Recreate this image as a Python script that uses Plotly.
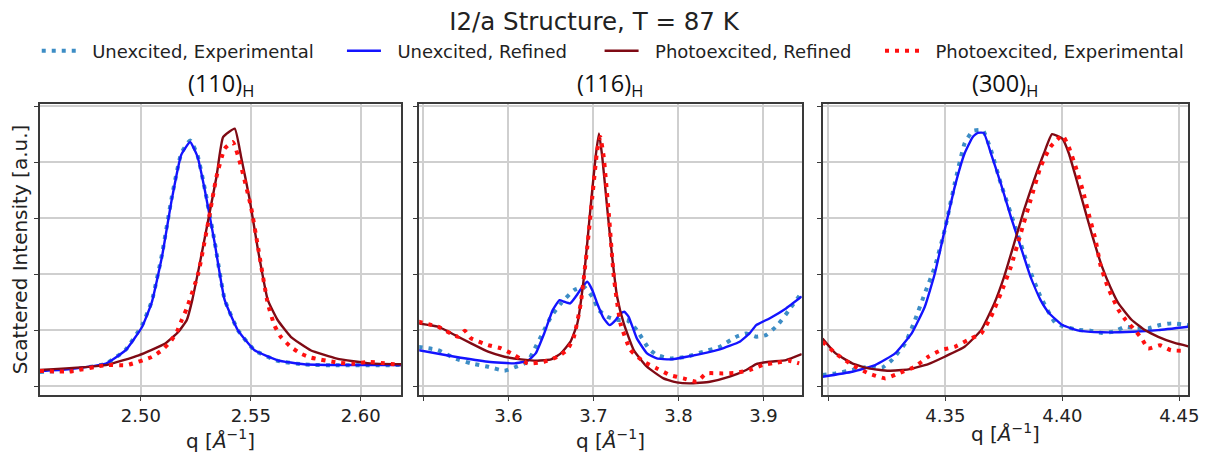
import plotly.graph_objects as go

# ---------------- data ----------------
# Panel (110)_H
ue1_x = [2.454, 2.467, 2.4841, 2.4931, 2.5006, 2.505, 2.5096, 2.514, 2.5183, 2.5224, 2.5258, 2.5291, 2.5336, 2.5381, 2.5441, 2.5517, 2.5622, 2.5742, 2.590, 2.6185]
ue1_y = [0.25, 0.28, 0.40, 0.65, 1.09, 1.52, 2.35, 3.36, 4.15, 4.39, 4.12, 3.52, 2.57, 1.55, 1.0, 0.64, 0.45, 0.385, 0.37, 0.375]
ur1_x = [2.454, 2.467, 2.4841, 2.4931, 2.5006, 2.505, 2.5096, 2.514, 2.5183, 2.5224, 2.5258, 2.5291, 2.5336, 2.5381, 2.5441, 2.5517, 2.5622, 2.5742, 2.590, 2.6185]
ur1_y = [0.27, 0.30, 0.40, 0.64, 1.06, 1.50, 2.31, 3.32, 4.125, 4.36, 4.095, 3.5, 2.55, 1.54, 1.0, 0.64, 0.46, 0.39, 0.375, 0.375]
pr1_x = [2.454, 2.4841, 2.499, 2.5111, 2.5171, 2.5209, 2.5234, 2.5271, 2.5306, 2.5344, 2.5374, 2.5427, 2.5456, 2.5494, 2.5532, 2.5577, 2.5622, 2.5682, 2.5772, 2.5892, 2.6042, 2.6185]
pr1_y = [0.286, 0.375, 0.55, 0.76, 0.97, 1.18, 1.54, 2.25, 2.96, 3.74, 4.45, 4.60, 4.095, 3.35, 2.45, 1.54, 1.18, 0.88, 0.64, 0.49, 0.405, 0.39]
pe1_x = [2.454, 2.4676, 2.4841, 2.4938, 2.505, 2.5096, 2.5134, 2.5164, 2.5186, 2.5209, 2.5261, 2.5306, 2.5344, 2.5381, 2.5419, 2.5456, 2.5501, 2.5532, 2.5577, 2.5607, 2.5636, 2.5682, 2.5727, 2.5772, 2.5892, 2.5962, 2.6042, 2.6185]
pe1_y = [0.27, 0.26, 0.375, 0.375, 0.52, 0.64, 0.79, 0.97, 1.18, 1.39, 2.01, 2.92, 3.74, 4.24, 4.36, 3.92, 3.2, 2.5, 1.48, 1.09, 0.88, 0.70, 0.58, 0.51, 0.42, 0.40, 0.43, 0.375]

# Panel (116)_H
ue2_x = [3.494, 3.517, 3.537, 3.556, 3.576, 3.5953, 3.611, 3.6226, 3.630, 3.640, 3.650, 3.6616, 3.677, 3.6888, 3.6986, 3.7064, 3.716, 3.7278, 3.7395, 3.751, 3.7648, 3.7745, 3.790, 3.8096, 3.829, 3.8485, 3.868, 3.8797, 3.8914, 3.903, 3.9167, 3.930, 3.945]
ue2_y = [0.70, 0.643, 0.494, 0.405, 0.345, 0.274, 0.357, 0.435, 0.643, 0.94, 1.238, 1.476, 1.714, 1.774, 1.595, 1.357, 1.238, 1.179, 1.179, 1.0, 0.673, 0.554, 0.494, 0.524, 0.613, 0.702, 0.881, 0.94, 0.881, 0.911, 1.089, 1.357, 1.67]
ur2_x = [3.494, 3.537, 3.576, 3.607, 3.6226, 3.632, 3.642, 3.652, 3.660, 3.6655, 3.6725, 3.679, 3.687, 3.6927, 3.6986, 3.7044, 3.712, 3.719, 3.726, 3.7317, 3.7363, 3.7414, 3.751, 3.763, 3.7745, 3.790, 3.8096, 3.8485, 3.872, 3.8836, 3.8914, 3.907, 3.9265, 3.945]
ur2_y = [0.643, 0.524, 0.435, 0.405, 0.452, 0.583, 0.94, 1.357, 1.536, 1.506, 1.476, 1.595, 1.774, 1.863, 1.714, 1.476, 1.208, 1.089, 1.179, 1.298, 1.327, 1.238, 0.851, 0.583, 0.494, 0.476, 0.524, 0.655, 0.792, 0.94, 1.089, 1.208, 1.387, 1.60]
pr2_x = [3.494, 3.517, 3.537, 3.556, 3.576, 3.5953, 3.6148, 3.634, 3.650, 3.6616, 3.673, 3.681, 3.6888, 3.6966, 3.7025, 3.7064, 3.7103, 3.716, 3.722, 3.7278, 3.7356, 3.7473, 3.7628, 3.7823, 3.7979, 3.8135, 3.8369, 3.8602, 3.8797, 3.8914, 3.907, 3.9265, 3.945]
pr2_y = [1.119, 1.06, 0.911, 0.762, 0.613, 0.524, 0.476, 0.452, 0.476, 0.583, 0.792, 1.119, 1.952, 3.202, 4.095, 4.512, 4.095, 3.202, 2.31, 1.595, 1.119, 0.643, 0.345, 0.137, 0.065, 0.048, 0.077, 0.167, 0.286, 0.393, 0.435, 0.464, 0.57]
pe2_x = [3.494, 3.517, 3.541, 3.5486, 3.556, 3.576, 3.5914, 3.607, 3.6226, 3.642, 3.6577, 3.669, 3.677, 3.685, 3.6927, 3.6986, 3.7044, 3.708, 3.712, 3.718, 3.7239, 3.7317, 3.7434, 3.759, 3.7745, 3.790, 3.8057, 3.8213, 3.833, 3.8524, 3.868, 3.8836, 3.899, 3.9148, 3.930, 3.942]
pe2_y = [1.149, 1.06, 0.881, 0.988, 0.851, 0.732, 0.673, 0.554, 0.405, 0.435, 0.524, 0.643, 0.881, 1.476, 2.488, 3.381, 4.214, 4.452, 4.095, 3.083, 1.952, 1.119, 0.643, 0.435, 0.315, 0.196, 0.137, 0.077, 0.226, 0.226, 0.238, 0.286, 0.375, 0.417, 0.452, 0.405]

# Panel (300)_H
ue3_x = [4.2975, 4.3031, 4.3102, 4.3172, 4.3229, 4.3271, 4.3328, 4.337, 4.3412, 4.3455, 4.3497, 4.354, 4.3582, 4.3617, 4.366, 4.3695, 4.3737, 4.3794, 4.385, 4.3907, 4.3972, 4.4071, 4.412, 4.4169, 4.4218, 4.4269, 4.4318, 4.4367, 4.4417, 4.4466, 4.4538]
ue3_y = [0.196, 0.226, 0.286, 0.345, 0.327, 0.464, 0.762, 1.179, 1.655, 2.131, 2.786, 3.619, 4.333, 4.56, 4.571, 4.214, 3.619, 2.905, 2.19, 1.595, 1.12, 1.0, 0.99, 0.95, 0.97, 1.06, 1.03, 1.03, 1.09, 1.12, 1.09]
ur3_x = [4.2975, 4.3102, 4.320, 4.3285, 4.3356, 4.3412, 4.3455, 4.3497, 4.354, 4.3582, 4.3617, 4.3638, 4.3664, 4.3695, 4.3737, 4.378, 4.3822, 4.3864, 4.3907, 4.3944, 4.400, 4.4071, 4.4169, 4.4302, 4.441, 4.4538]
ur3_y = [0.167, 0.256, 0.375, 0.583, 0.94, 1.417, 2.012, 2.786, 3.56, 4.155, 4.452, 4.524, 4.524, 4.155, 3.619, 3.024, 2.488, 1.952, 1.536, 1.30, 1.09, 0.99, 0.96, 0.97, 1.0, 1.06]
pr3_x = [4.2975, 4.3031, 4.3102, 4.3172, 4.3257, 4.3342, 4.3427, 4.3497, 4.3582, 4.3653, 4.3709, 4.3751, 4.3794, 4.3836, 4.3879, 4.3921, 4.3956, 4.4000, 4.4028, 4.4057, 4.4085, 4.4113, 4.4142, 4.417, 4.4205, 4.424, 4.4297, 4.4353, 4.441, 4.448, 4.4538]
pr3_y = [0.851, 0.583, 0.405, 0.315, 0.274, 0.298, 0.393, 0.524, 0.702, 1.0, 1.476, 1.952, 2.548, 3.143, 3.679, 4.155, 4.5, 4.42, 4.155, 3.74, 3.32, 2.905, 2.49, 2.13, 1.77, 1.476, 1.18, 1.0, 0.88, 0.77, 0.71]
pe3_x = [4.2975, 4.3031, 4.3102, 4.3172, 4.3243, 4.33, 4.337, 4.3427, 4.3483, 4.354, 4.3596, 4.3653, 4.3695, 4.3737, 4.378, 4.3822, 4.3864, 4.3907, 4.3949, 4.4000, 4.4025, 4.4059, 4.4089, 4.4116, 4.4142, 4.4163, 4.4195, 4.424, 4.4271, 4.4308, 4.4339, 4.4367, 4.4417, 4.4464, 4.4528]
pe3_y = [0.792, 0.583, 0.375, 0.226, 0.137, 0.226, 0.345, 0.524, 0.643, 0.702, 0.821, 0.94, 1.238, 1.655, 2.131, 2.726, 3.321, 3.917, 4.274, 4.48, 4.30, 3.89, 3.47, 3.02, 2.61, 2.16, 1.76, 1.36, 1.18, 1.01, 0.85, 0.67, 0.73, 0.64, 0.63]

panel_titles = ["(110)<sub>H</sub>", "(116)<sub>H</sub>", "(300)<sub>H</sub>"]
x_ranges = [[2.454, 2.6185], [3.495, 3.945], [4.2975, 4.4538]]
x_tickvals = [[2.50, 2.55, 2.60], [3.5, 3.6, 3.7, 3.8, 3.9], [4.30, 4.35, 4.40, 4.45]]
x_ticktext = [["2.50", "2.55", "2.60"], ["", "3.6", "3.7", "3.8", "3.9"], ["", "4.35", "4.40", "4.45"]]
y_tickvals = [0, 1, 2, 3, 4, 5]
series_names = ["Unexcited, Experimental", "Unexcited, Refined", "Photoexcited, Refined", "Photoexcited, Experimental"]

# ---------------- figure ----------------
# page body keeps an 8px margin, so the figure is sized to fit inside the window
OFF = 8
W, H = 1222 - OFF, 454 - OFF


def fx(px):
    return (px - OFF) / W


def fy(py):
    return 1 - (py - OFF) / H


panel_px = [(40, 405), (423, 809), (830, 1199)]
y_top, y_bot = 104, 395

styles = [
    dict(color="#3d8dc5", width=4, dash="4px,6px"),
    dict(color="#1414ff", width=2.4, dash="solid"),
    dict(color="#7f0a14", width=2.4, dash="solid"),
    dict(color="#ff1010", width=4, dash="4px,6px"),
]
legend_ids = ["legend", "legend2", "legend3", "legend4"]
GAP = "\u00a0\u00a0"  # small gap between legend sample and label

data_sets = [
    [(ue1_x, ue1_y), (ur1_x, ur1_y), (pr1_x, pr1_y), (pe1_x, pe1_y)],
    [(ue2_x, ue2_y), (ur2_x, ur2_y), (pr2_x, pr2_y), (pe2_x, pe2_y)],
    [(ue3_x, ue3_y), (ur3_x, ur3_y), (pr3_x, pr3_y), (pe3_x, pe3_y)],
]

fig = go.Figure()
for p, sets in enumerate(data_sets):
    ax = "" if p == 0 else str(p + 1)
    for s, (xs, ys) in enumerate(sets):
        fig.add_trace(go.Scatter(
            x=xs, y=ys, mode="lines", name=GAP + series_names[s],
            line=dict(**styles[s], shape="spline", smoothing=0.4),
            xaxis="x" + ax, yaxis="y" + ax,
            showlegend=(p == 0), legend=legend_ids[s],
        ))

axis_common = dict(
    showline=True, linecolor="#3a3a3a", linewidth=1.5, mirror=True,
    showgrid=True, gridcolor="#cfcfcf", gridwidth=1.5,
    ticks="outside", ticklen=4, tickwidth=1, tickcolor="#3a3a3a",
    zeroline=False,
)
layout = dict(
    width=W, height=H,
    margin=dict(l=0, r=0, t=0, b=0),
    paper_bgcolor="white", plot_bgcolor="white",
    font=dict(family="DejaVu Sans", color="#222222"),
    title=dict(text="I2/a Structure, T = 87 K", x=fx(594), xanchor="center",
               y=fy(21), yanchor="middle", font=dict(size=24.5, color="#222222")),
    annotations=[],
)
for p in range(3):
    ax = "" if p == 0 else str(p + 1)
    x0, x1 = panel_px[p]
    layout["xaxis" + ax] = dict(
        axis_common, domain=[fx(x0), fx(x1)], range=x_ranges[p],
        tickvals=x_tickvals[p], ticktext=x_ticktext[p],
        tickfont=dict(size=18, color="#222222"),
        title=dict(text="q [<i>Å</i><sup>−1</sup>]", font=dict(size=20, color="#222222"), standoff=2),
        anchor="y" + ax,
    )
    layout["yaxis" + ax] = dict(
        axis_common, domain=[fy(y_bot), fy(y_top)], range=[-0.16, 5.04],
        tickvals=y_tickvals, showticklabels=False, anchor="x" + ax,
    )
    layout["annotations"].append(dict(
        text=panel_titles[p], xref="paper", yref="paper",
        x=fx((x0 + x1) / 2), y=fy(85), xanchor="center", yanchor="middle",
        showarrow=False, font=dict(family="Open Sans", size=23.5, color="#111111"),
    ))
layout["yaxis"]["title"] = dict(text="Scattered Intensity [a.u.]", font=dict(size=20, color="#222222"), standoff=4)

legend_sample_px = [42, 350, 610, 893]
for i, lid in enumerate(legend_ids):
    layout[lid] = dict(
        orientation="h", x=fx(legend_sample_px[i] - 5), xanchor="left",
        y=fy(51), yanchor="middle", bgcolor="rgba(0,0,0,0)",
        font=dict(size=18, color="#222222"), borderwidth=0, itemwidth=34,
    )

fig.update_layout(**layout)
fig.write_html("out.html")
